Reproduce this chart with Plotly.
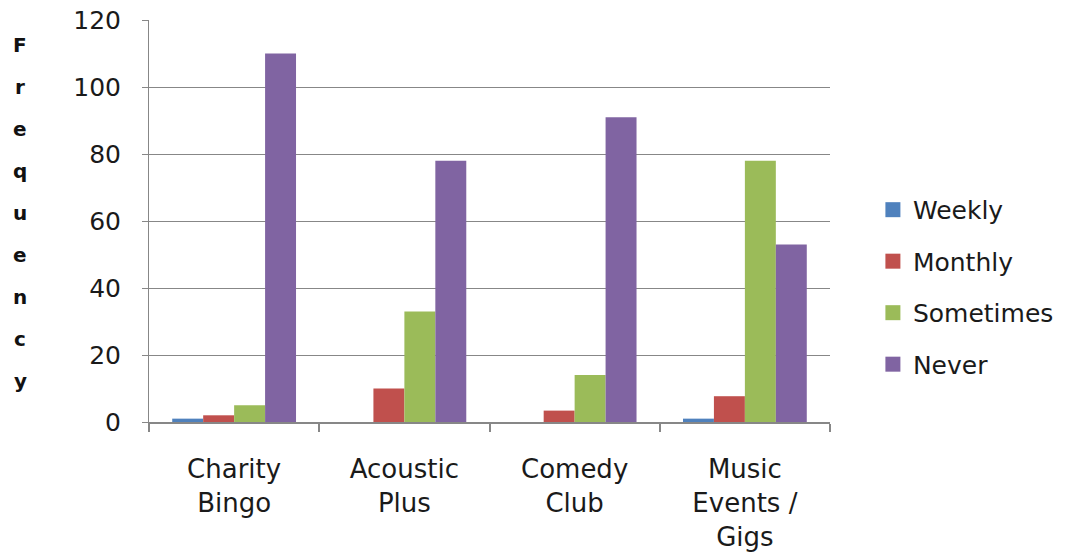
import plotly.graph_objects as go

categories = ["Charity<br>Bingo", "Acoustic<br>Plus", "Comedy<br>Club", "Music<br>Events /<br>Gigs"]
series_names = ["Weekly", "Monthly", "Sometimes", "Never"]
weekly = [1, 0, 0, 1]
monthly = [2, 10, 3.4, 7.7]
sometimes = [5, 33, 14, 78]
never = [110, 78, 91, 53]
colors = ["#4F81BD", "#C0504D", "#9BBB59", "#8064A2"]
y_title = "Frequency"
y_ticks = [0, 20, 40, 60, 80, 100, 120]

FONT = "DejaVu Sans"
fig = go.Figure()
for name, vals, col in zip(series_names, [weekly, monthly, sometimes, never], colors):
    fig.add_trace(go.Bar(name=name, x=categories, y=vals, marker=dict(color=col, line=dict(width=0)),
                         legendgroup=name, showlegend=False))
# legend entries with larger square swatches
for name, col in zip(series_names, colors):
    fig.add_trace(go.Scatter(name=name, x=[None], y=[None], mode="markers",
                             marker=dict(symbol="square", size=15, color=col),
                             legendgroup=name, showlegend=True))

W, H = 1068, 554
L, T = 149, 20
pw, ph = 681, 402
R, B = W - L - pw, H - T - ph

fig.update_layout(
    width=W, height=H,
    margin=dict(l=L, r=R, t=T, b=B, autoexpand=False),
    paper_bgcolor="white", plot_bgcolor="white",
    barmode="group", bargap=1.5 / 5.5, bargroupgap=0,
    font=dict(family=FONT, size=25, color="#1a1a1a"),
    legend=dict(x=1.063, y=0.336, xanchor="left", yanchor="middle",
                font=dict(size=25, color="#1a1a1a"), tracegroupgap=16,
                itemwidth=30),
    showlegend=True,
)
fig.update_yaxes(range=[0, 120.01], tickmode="array", tickvals=y_ticks,
                 ticktext=[str(v) for v in y_ticks], automargin=False,
                 ticklabeloverflow="allow",
                 showgrid=True, gridcolor="#878787", gridwidth=1,
                 showline=True, linecolor="#878787", linewidth=1, ticks="outside", ticklen=6,
                 tickcolor="#878787", ticklabelstandoff=16, zeroline=False,
                 tickfont=dict(size=25, color="#1a1a1a"))
fig.update_xaxes(showline=True, linecolor="#878787", linewidth=2, ticks="outside", ticklen=8,
                 tickcolor="#878787", tickwidth=2, tickson="boundaries", ticklabelstandoff=23,
                 automargin=False, ticklabeloverflow="allow",
                 tickfont=dict(size=26, color="#1a1a1a"))

letters = list(y_title)
top_px, step_px = 45, 42
for i, ch in enumerate(letters):
    ypx = top_px + i * step_px
    fig.add_annotation(text="<b>" + ch + "</b>", xref="paper", yref="paper",
                       x=(20 - L) / pw, y=(H - B - ypx) / ph, showarrow=False,
                       xanchor="center", yanchor="middle",
                       font=dict(size=20, family=FONT, color="#111111"))

fig.write_html("out.html", config={"displayModeBar": False},
               post_script="document.body.style.margin='0';document.body.style.overflow='hidden';")
